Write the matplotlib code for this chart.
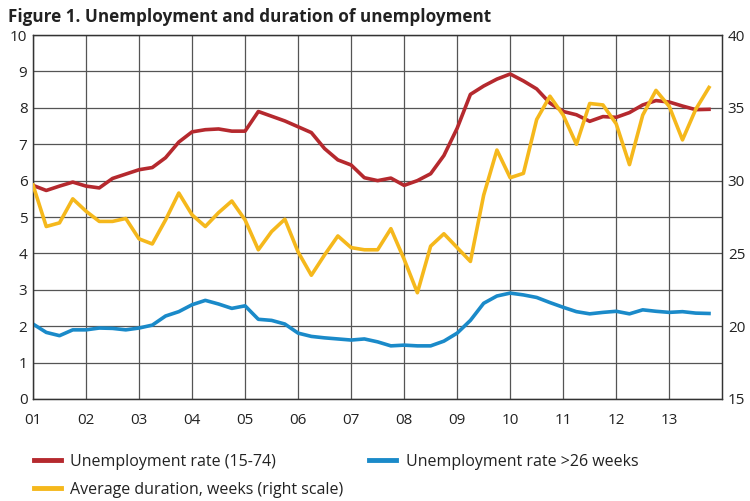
import numpy as np
import matplotlib
matplotlib.use("Agg")
import matplotlib.pyplot as plt
from matplotlib.lines import Line2D

plt.rcParams["font.family"] = "Open Sans"

# quarterly, 2001Q1 .. 2013Q4
quarters = np.arange(52) / 4.0 + 1
unemp_rate = [5.87, 5.73, 5.85, 5.96, 5.85, 5.80, 6.06, 6.18, 6.30, 6.36,
              6.63, 7.06, 7.34, 7.40, 7.42, 7.36, 7.36, 7.90, 7.77, 7.64,
              7.48, 7.32, 6.88, 6.57, 6.43, 6.08, 6.00, 6.07, 5.87, 6.00,
              6.19, 6.69, 7.44, 8.37, 8.60, 8.79, 8.93, 8.74, 8.52, 8.13,
              7.90, 7.81, 7.63, 7.76, 7.74, 7.87, 8.08, 8.20, 8.16, 8.05,
              7.95, 7.96]
unemp_long = [2.06, 1.83, 1.74, 1.90, 1.90, 1.95, 1.94, 1.90, 1.95, 2.03,
              2.28, 2.40, 2.59, 2.71, 2.61, 2.49, 2.56, 2.19, 2.16, 2.06,
              1.81, 1.72, 1.68, 1.65, 1.62, 1.65, 1.57, 1.46, 1.48, 1.46,
              1.46, 1.59, 1.81, 2.16, 2.63, 2.83, 2.91, 2.86, 2.79, 2.65,
              2.52, 2.40, 2.34, 2.38, 2.41, 2.34, 2.45, 2.41, 2.38, 2.40,
              2.36, 2.35]
avg_duration = [29.7, 26.85, 27.1, 28.75, 27.9, 27.2, 27.2, 27.4, 26.0, 25.65,
                27.3, 29.15, 27.65, 26.85, 27.8, 28.6, 27.3, 25.25, 26.5, 27.35,
                25.1, 23.5, 24.9, 26.2, 25.4, 25.25, 25.25, 26.7, 24.6, 22.3,
                25.5, 26.35, 25.4, 24.45, 29.0, 32.1, 30.2, 30.5, 34.2, 35.8,
                34.5, 32.5, 35.3, 35.2, 33.9, 31.1, 34.5, 36.2, 35.1, 32.8,
                34.9, 36.4]
year_labels = ["01", "02", "03", "04", "05", "06", "07", "08", "09", "10",
               "11", "12", "13"]

red = "#b5292e"
blue = "#1a8ac9"
yellow = "#f5b81c"
txt = "#222222"

fig = plt.figure(figsize=(7.5, 5.01), dpi=100)
ax = fig.add_axes([0.044, 0.2036, 0.919, 0.7264])
ax2 = ax.twinx()

ax.set_xlim(1, 14)
ax.set_ylim(0, 10)
ax2.set_ylim(15, 40)

ax.set_xticks(np.arange(1, 14))
ax.set_xticklabels(year_labels)
ax.set_yticks(range(0, 11))
ax2.set_yticks(range(15, 41, 5))
ax.grid(True, color="#555555", lw=0.9)
ax.set_axisbelow(True)

ax.plot(quarters, unemp_rate, color=red, lw=2.6, zorder=3)
ax.plot(quarters, unemp_long, color=blue, lw=2.6, zorder=3)
ax2.plot(quarters, avg_duration, color=yellow, lw=2.6, zorder=3)

for a in (ax, ax2):
    a.tick_params(length=0, labelsize=11, colors=txt, pad=4)
    for s in a.spines.values():
        s.set_color("#333333")
        s.set_linewidth(0.9)
ax.tick_params(axis="x", pad=10)

fig.text(0.011, 0.967, "Figure 1. Unemployment and duration of unemployment",
         fontsize=12.3, fontweight="bold", color=txt, va="center")

entries = [(red, "Unemployment rate (15-74)", 0.045, 1 - 462 / 501),
           (blue, "Unemployment rate >26 weeks", 0.492, 1 - 462 / 501),
           (yellow, "Average duration, weeks (right scale)", 0.045, 1 - 490 / 501)]
for col, lab, x, y in entries:
    fig.legend([Line2D([], [], color=col, lw=3.5)], [lab], loc="center left",
               bbox_to_anchor=(x, y), frameon=False, fontsize=11.5,
               handlelength=1.7, handletextpad=0.6, borderpad=0,
               borderaxespad=0, labelcolor=txt)

fig.savefig("out.png", dpi=100)
